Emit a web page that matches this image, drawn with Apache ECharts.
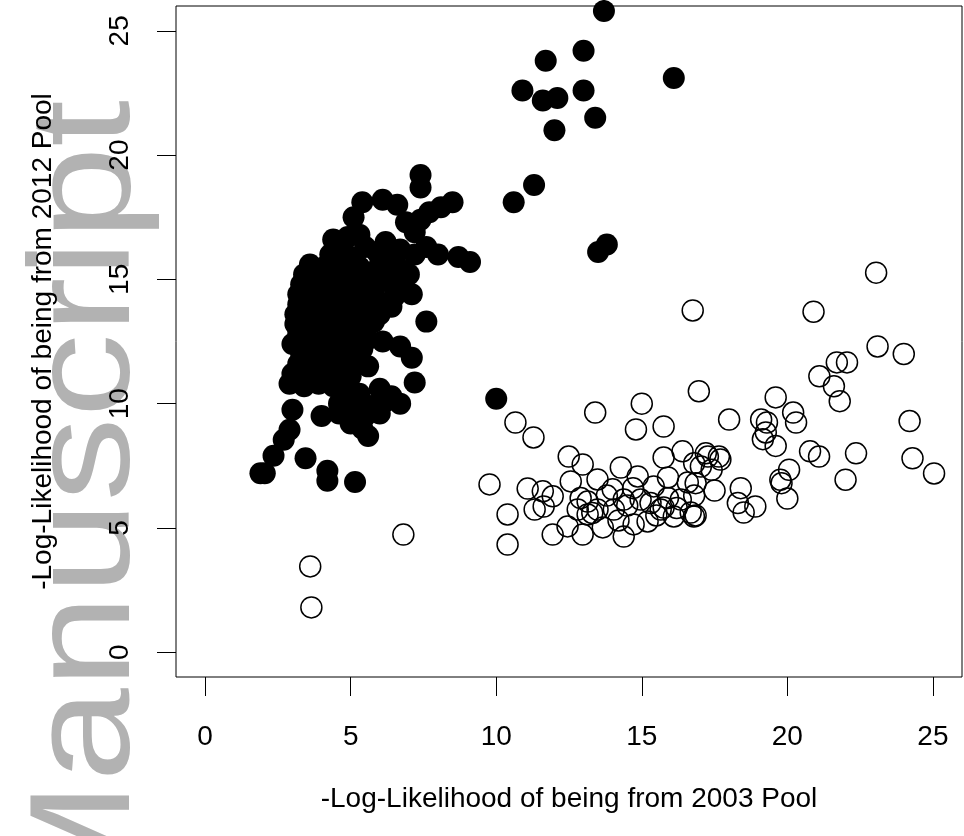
<!DOCTYPE html>
<html>
<head>
<meta charset="utf-8">
<script src="https://cdn.jsdelivr.net/npm/echarts@6/dist/echarts.min.js"></script>
<style>
  html, body { margin: 0; padding: 0; background: #fff; }
  #myCharts { width: 964px; height: 836px; }
</style>
</head>
<body>
<div id="myCharts"></div>
<script>
// [x, y] pairs
var pool2012 = [
  [13.7, 25.8], [13.0, 24.2], [11.7, 23.8], [10.9, 22.6], [11.6, 22.2], [12.1, 22.3],
  [13.0, 22.6], [13.4, 21.5], [12.0, 21.0], [16.1, 23.1], [11.3, 18.8], [10.6, 18.1],
  [13.8, 16.4], [13.5, 16.1],
  [7.4, 19.2], [7.4, 18.7], [8.5, 18.1], [8.1, 17.9], [7.7, 17.7], [7.4, 17.4],
  [5.1, 17.5], [5.4, 18.1], [6.1, 18.2], [6.6, 18.0], [6.9, 17.3], [7.2, 16.9],
  [4.4, 16.6], [4.9, 16.7], [5.3, 16.8],
  [7.6, 16.3], [8.0, 16.0], [8.7, 15.9], [9.1, 15.7],
  [4.6, 16.4], [5.5, 16.3], [6.2, 16.5], [6.7, 16.2],
  [4.3, 16.0], [5.0, 15.9], [5.9, 16.1], [6.5, 15.9], [7.2, 16.0],
  [3.6, 15.6], [4.1, 15.5], [4.8, 15.7], [5.3, 15.5], [6.0, 15.6], [6.7, 15.4],
  [3.4, 15.2], [3.9, 15.1], [4.5, 15.3], [5.1, 15.1], [5.7, 15.2], [6.4, 15.0], [7.0, 15.2],
  [3.3, 14.8], [3.8, 14.7], [4.3, 14.9], [4.6, 14.6], [5.0, 14.8], [5.5, 14.7], [6.0, 14.9], [6.6, 14.6],
  [3.2, 14.4], [3.7, 14.3], [4.1, 14.5], [4.6, 14.3], [4.9, 14.4], [5.4, 14.2], [5.8, 14.4], [6.5, 14.3], [7.1, 14.4],
  [3.2, 14.0], [3.6, 13.9], [4.0, 14.1], [4.5, 13.9], [4.9, 14.0], [5.3, 13.8], [6.0, 14.0], [6.4, 13.9],
  [3.1, 13.6], [3.6, 13.5], [4.0, 13.7], [4.4, 13.5], [5.0, 13.6], [5.5, 13.4], [6.0, 13.6],
  [3.1, 13.2], [3.5, 13.1], [3.9, 13.3], [4.4, 13.1], [4.8, 13.2], [5.3, 13.0], [5.8, 13.3],
  [3.2, 12.8], [3.6, 12.7], [4.1, 12.9], [4.6, 12.7], [5.1, 12.8], [5.6, 12.6], [6.1, 12.5],
  [3.0, 12.4], [3.4, 12.3], [3.9, 12.5], [4.4, 12.3], [4.9, 12.4], [5.4, 12.2],
  [3.3, 12.0], [3.7, 11.9], [4.1, 12.0], [4.6, 11.8], [5.2, 12.0],
  [3.2, 11.6], [3.6, 11.5], [4.1, 11.6], [4.6, 11.4], [5.0, 11.6], [5.6, 11.5],
  [3.0, 11.2], [3.6, 11.1], [4.0, 11.2], [4.5, 11.0], [5.0, 11.1],
  [2.9, 10.8], [3.4, 10.7], [3.9, 10.8], [4.4, 10.7],
  [4.8, 10.5], [5.3, 10.4], [6.0, 10.6], [6.4, 10.3],
  [4.6, 10.0], [5.2, 10.1], [5.7, 9.9], [6.2, 10.1], [6.7, 10.0],
  [4.6, 9.6], [5.1, 9.7], [5.5, 9.5], [6.0, 9.6],
  [5.0, 9.2], [5.4, 9.0], [5.6, 8.7],
  [7.6, 13.3], [6.7, 12.3], [7.1, 11.85], [7.2, 10.85], [10.0, 10.2],
  [3.0, 9.75], [2.9, 8.95], [2.7, 8.55], [2.35, 7.9], [2.05, 7.2], [1.9, 7.2],
  [4.0, 9.5], [3.45, 7.8], [4.2, 7.3], [4.2, 6.9], [5.15, 6.85]
];

var pool2003 = [
  [23.05, 15.27], [20.9, 13.7], [16.75, 13.75], [23.1, 12.3], [24.0, 12.0],
  [21.7, 11.66], [22.05, 11.66], [21.1, 11.1], [21.6, 10.7], [21.8, 10.1],
  [19.6, 10.25], [16.96, 10.5], [18.0, 9.36], [19.1, 9.36], [19.3, 9.24],
  [19.26, 8.84], [19.16, 8.57], [19.6, 8.3], [20.2, 9.64], [20.3, 9.24],
  [24.2, 9.3], [22.36, 8.0], [20.78, 8.08], [21.09, 7.87], [24.3, 7.8],
  [25.04, 7.19], [22.0, 6.94], [20.06, 7.34], [19.76, 6.94], [19.8, 6.8],
  [20.0, 6.18], [18.4, 6.6], [18.9, 5.86], [18.5, 5.62], [18.3, 6.0],
  [17.5, 6.5], [17.65, 7.87], [17.27, 7.87], [17.4, 7.34],
  [16.8, 7.6], [16.85, 6.8], [16.8, 6.3], [16.85, 5.5], [17.2, 8.0], [17.7, 7.75],
  [10.66, 9.24], [11.28, 8.64], [13.4, 9.64], [15.0, 10.0], [14.8, 8.96], [15.75, 9.08],
  [9.77, 6.75], [10.39, 5.54], [10.39, 4.33], [11.08, 6.58], [12.49, 7.87], [12.97, 7.55],
  [14.28, 7.43], [15.75, 7.83], [16.4, 8.08], [11.6, 6.47], [11.94, 6.27], [11.32, 5.74],
  [11.63, 5.86], [11.94, 4.73], [12.45, 5.06], [12.97, 4.73], [12.56, 6.87], [13.48, 6.95],
  [12.8, 5.74], [13.14, 5.54], [13.66, 5.02], [14.38, 4.65], [13.48, 5.74], [14.04, 5.74],
  [14.72, 5.14], [15.2, 5.26], [15.75, 5.82], [16.34, 6.14], [16.79, 5.46], [14.0, 6.55],
  [14.86, 7.07], [15.41, 6.67], [15.9, 7.03], [16.58, 6.83], [17.03, 7.47], [14.96, 6.14],
  [14.38, 6.14], [13.14, 6.06], [15.65, 5.74], [16.1, 5.46], [16.68, 5.62],
  [13.8, 6.3], [14.5, 5.9], [15.3, 6.0], [13.3, 5.6], [14.2, 5.3], [15.5, 5.5],
  [12.9, 6.2], [14.7, 6.6], [15.9, 6.2], [16.2, 5.8],
  [6.81, 4.73], [3.61, 3.45], [3.65, 1.8]
];

var tickValues = [0, 5, 10, 15, 20, 25];

var font = '"Liberation Sans", Arial, sans-serif';

var myCharts = echarts.init(document.getElementById('myCharts'));
myCharts.setOption({
  backgroundColor: '#fff',
  animation: false,
  grid: {
    left: 176, right: 2, top: 6, bottom: 159,
    show: true,
    borderColor: '#000',
    borderWidth: 1
  },
  xAxis: {
    type: 'value',
    min: -1, max: 26,
    name: '-Log-Likelihood of being from 2003 Pool',
    nameLocation: 'middle',
    nameGap: 108,
    nameTextStyle: { fontFamily: font, fontSize: 28, color: '#000' },
    axisLine: { show: false, onZero: false },
    splitLine: { show: false },
    axisTick: { show: true, inside: false, length: 19, customValues: tickValues, lineStyle: { color: '#000', width: 1 } },
    axisLabel: { customValues: tickValues, margin: 46, fontFamily: font, fontSize: 28, color: '#000' }
  },
  yAxis: {
    type: 'value',
    min: -1, max: 26,
    name: '-Log-Likelihood of being from 2012 Pool',
    nameLocation: 'middle',
    nameGap: 119,
    nameRotate: 90,
    nameTextStyle: { fontFamily: font, fontSize: 28, color: '#000' },
    axisLine: { show: false, onZero: false },
    splitLine: { show: false },
    axisTick: { show: true, inside: false, length: 19, customValues: tickValues, lineStyle: { color: '#000', width: 1 } },
    axisLabel: { customValues: tickValues, rotate: 90, margin: 42, fontFamily: font, fontSize: 28, color: '#000' }
  },
  // faint watermark down the left margin
  graphic: [{
    type: 'text',
    x: 90,
    y: 100,
    rotation: Math.PI / 2,
    scaleY: 0.85,
    z: -10,
    silent: true,
    style: {
      text: 'Manuscript',
      font: '168px "Liberation Sans", Arial, sans-serif',
      fill: '#b2b2b2',
      textAlign: 'right',
      textVerticalAlign: 'middle'
    }
  }],
  series: [
    {
      name: '2012',
      type: 'scatter',
      data: pool2012,
      symbol: 'circle',
      symbolSize: 22,
      itemStyle: { color: '#000', opacity: 1 }
    },
    {
      name: '2003',
      type: 'scatter',
      data: pool2003,
      symbol: 'circle',
      symbolSize: 21,
      itemStyle: { color: 'transparent', borderColor: '#000', borderWidth: 1.5, opacity: 1 }
    }
  ]
});
</script>
</body>
</html>
